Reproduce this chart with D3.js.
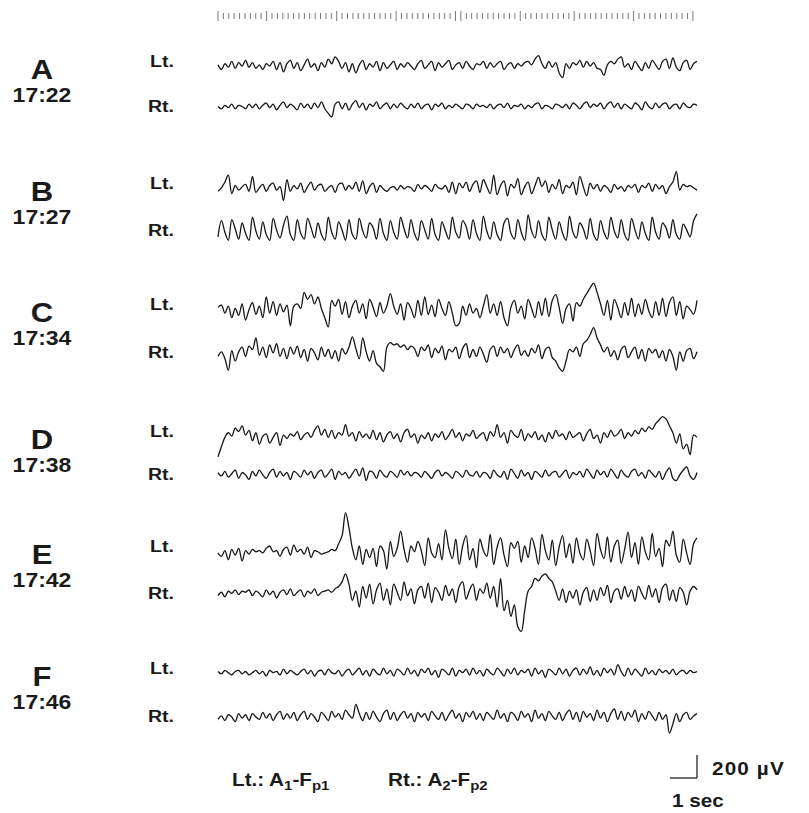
<!DOCTYPE html>
<html>
<head>
<meta charset="utf-8">
<script src="https://cdn.jsdelivr.net/npm/d3@7"></script>
<style>
  html, body { margin: 0; padding: 0; background: #fff; }
  text { font-family: "Liberation Sans", Arial, Helvetica, sans-serif; font-weight: bold; fill: #1a1a1a; }
</style>
</head>
<body>
<div class="chart"></div>
<script>
var svgWidth = 809;
var svgHeight = 813;

// recording segments
var segments = ["A", "B", "C", "D", "E", "F"];
var clockTimes = ["17:22", "17:27", "17:34", "17:38", "17:42", "17:46"];

// trace values in microvolts (positive up)
var aLt = [10,-30,20,-10,40,-20,30,0,50,-10, 30,-20,10,-30,20,0,40,-30,30,-50, 20,50,-20,30,-40,10,60,-10,20,-40,
  30,-10,60,20,80,40,-20,30,-50,20, -60,10,50,-30,20,-10,40,-40,30,-20, 10,40,-30,20,-10,30,0,-30,20,50,
  -20,10,40,-40,30,-10,20,50,-30,10, 30,-20,40,0,-30,20,10,40,-20,30, -10,20,40,-30,10,30,-20,20,0,30,
  40,10,60,90,20,-20,40,-10,30,-60, -100,20,-20,30,10,50,-10,40,0,30, -20,-30,-80,10,40,20,60,80,-10,20,
  -30,40,0,-40,30,-20,50,10,-30,40, 60,-20,70,-10,-40,30,50,-30,20,40];
var aRt = [0,-20,10,-10,20,-20,10,0,-20,20, -10,20,-20,10,30,-10,20,-30,10,40, -10,20,0,-30,30,-10,20,-20,30,-10,
  40,-20,-60,-90,20,40,-20,30,-30,20, 50,-10,30,-30,20,0,40,-20,10,30, -20,20,-10,30,0,-20,20,-10,30,-20,
  10,20,-30,20,0,30,-20,10,-10,20, 0,-20,20,10,-20,20,0,10,-10,20, -20,10,20,-10,30,-20,10,0,20,-20,
  10,-10,20,30,-20,10,0,-20,20,10, -10,20,-20,30,10,-20,20,40,-10,20, 0,30,-20,20,40,-10,30,-20,20,0,
  -20,30,10,-30,40,0,-20,30,-10,20, 30,-20,10,20,-20,30,0,-10,20,10];
var bLt = [-20,10,60,120,-40,30,-10,20,40,-20, 110,-30,10,40,-20,30,50,-10,20,-100, 80,-20,30,0,50,-30,20,60,-10,30,
  40,-20,10,30,-30,40,50,-10,30,0, 60,-20,70,-40,20,50,-30,30,0,-20, 10,20,-10,30,0,20,10,-20,40,0,
  30,10,-20,40,10,0,30,-30,60,-40, 50,10,60,-20,40,70,-30,80,20,-40, 120,-50,30,70,-60,40,10,90,-50,20,
  60,-40,30,100,20,70,-30,40,0,80, -40,30,10,60,-50,110,20,-60,50,0, 40,-20,30,10,-30,40,0,20,-20,30,
  10,40,-30,30,10,50,-20,40,0,30, -40,20,60,150,-10,40,20,30,10,-10];
var bRt = [-60,80,-20,-90,90,10,-80,60,-30,-90, 110,-10,-80,70,-40,-90,100,0,-70,40, 120,-40,-90,90,-30,-80,100,20,-70,60,
  -40,-90,110,-20,-80,70,0,-90,90,-40, -80,100,-10,-70,60,20,-80,100,-30,-90, 80,-20,-80,110,10,-70,90,-30,-90,80,
  0,-80,100,-40,-90,70,-10,-80,110,-20, -70,80,30,-80,90,-30,-90,120,-10,-80, 70,-40,-90,60,100,-30,-80,90,-20,-90,
  130,-10,-70,80,-40,-90,110,0,-80,70, -30,-90,120,-20,-70,60,10,-80,100,-40, -90,80,-20,-80,110,-10,-70,90,-40,-90,
  100,0,-80,70,-30,-90,110,-20,-80,60, 20,-70,90,-40,-80,50,0,-60,80,140];
var cLt = [30,50,-20,40,-60,20,-40,60,-80,10, 70,-30,40,-60,120,-20,80,-40,60,-10, 50,-130,40,60,20,160,100,140,60,120,
  20,-60,-140,90,40,100,-30,80,-60,40, 90,-20,60,-70,100,30,-50,70,-20,40, 150,40,-30,60,-80,70,20,-60,90,-40,
  120,-30,50,-50,100,20,-40,80,-20,-130, -110,40,-40,60,-20,20,-60,40,140,-20, 60,-40,80,-60,-130,30,90,-20,40,-70,
  100,20,-60,80,-40,110,-50,90,140,30, -110,20,60,-90,70,40,100,150,200,240, 160,60,-40,90,-80,100,30,-60,70,-40,
  110,-50,60,-30,100,0,-60,80,-40,110, -50,70,120,-40,80,-70,40,10,-30,90];
var cRt = [-20,20,-40,-140,30,-60,20,60,-20,70, 40,140,-10,60,-30,80,10,90,-20,50, -40,60,0,70,-30,40,-60,50,10,-50,
  60,-20,40,-40,30,-60,50,0,60,150, 50,-40,140,20,-60,30,-80,-110,-150,60, 100,80,90,60,80,40,70,50,-20,60,
  30,80,-30,50,10,70,-50,40,20,60, -40,50,90,-30,40,-20,60,0,-70,40, 70,-20,60,10,50,-30,40,80,-10,30,
  -20,50,10,80,-40,40,60,-30,-60,-120, -150,-60,40,20,60,-20,90,120,170,230, 140,80,20,60,-20,30,-50,40,70,-30,
  20,60,-40,40,-60,50,10,40,-30,30, -60,40,-20,-140,20,-60,30,50,-40,20];
var dLt = [-150,-60,20,60,30,100,70,120,40,80, -10,60,-40,30,50,-30,20,60,-50,40, 10,50,30,70,0,40,60,20,80,120,
  40,90,20,80,10,60,40,130,30,60, -10,70,20,50,10,80,0,60,-20,40, 70,10,50,-20,60,90,20,50,-30,40,
  10,60,-10,50,20,70,0,40,90,20, 60,-10,50,30,80,10,40,60,-10,70, 30,130,20,60,-30,80,40,20,90,-10,
  50,20,70,0,40,-20,60,10,80,30, 50,0,70,20,40,60,-10,50,90,10, 40,-30,60,20,80,30,50,90,10,60,
  30,80,50,100,70,110,90,140,170,200, 180,120,60,-30,50,-80,-40,-130,40,20];
var dRt = [20,-10,30,-20,10,40,-30,20,0,-40, 30,-10,40,0,-30,20,50,-20,30,-10, 20,-40,30,10,-20,40,0,30,-30,20,
  40,-20,10,50,-40,30,0,20,-30,10, 50,-10,60,-50,30,20,-30,40,0,-20, 30,10,-20,40,0,30,-10,20,10,-20,
  30,0,-30,20,40,-10,20,0,-30,30, 10,-20,40,0,-10,30,-20,20,10,-30, 40,0,-20,30,-40,50,10,-30,40,-10,
  20,-40,30,10,-20,40,-10,20,30,-20, 10,40,-30,20,0,30,-20,50,10,-30, 40,0,30,-20,50,10,-30,40,0,-20,
  30,50,-10,20,-30,40,10,-20,30,-40, 20,60,-30,-50,0,40,70,-10,-40,20];
var eLt = [0,-30,20,-60,30,-20,40,-70,20,-10, 30,10,20,0,40,60,10,20,-30,30, 50,-20,70,10,30,-10,50,-40,20,10,
  -10,0,10,30,20,80,150,350,220,40, -60,60,-100,30,-40,40,-120,60,20,-140, 100,-30,40,190,30,-80,60,10,100,20,
  -110,130,0,-40,80,-60,200,40,-50,120, -100,60,150,-60,40,-130,120,20,-30,160, -100,50,130,-20,-120,90,40,100,-80,60,
  -40,130,40,-100,160,20,-60,110,-110,50, 150,-40,80,-90,130,0,-60,120,20,-110, 170,30,-50,140,-80,60,110,-90,30,180,
  -40,90,-100,140,10,-60,170,-30,40,-120, 110,60,190,-20,-80,120,0,-100,80,130];
var eRt = [-20,10,-30,20,0,30,-10,20,10,30, -20,20,0,-30,30,-10,20,-40,10,30, -10,40,-20,10,30,-30,20,0,40,-20,
  10,20,30,10,40,60,100,170,80,-60, 20,-120,60,-40,80,-90,30,90,-60,40, -100,80,10,-60,100,-20,40,-90,30,60,
  -40,90,-80,50,10,-60,70,-20,40,-80, 60,100,-50,30,80,-60,40,0,90,-40, 60,-120,130,-150,-60,-200,-100,-290,-330,-150,
  20,60,130,110,150,170,130,100,20,-60, 40,-80,20,-40,30,-100,10,50,-70,30, -60,50,-20,70,-80,20,40,-50,60,-30,
  30,-70,60,0,-50,70,-30,40,-80,50, 80,-60,30,-70,50,10,-100,20,60,30];
var fLt = [10,-10,20,0,-20,10,20,-10,10,-20, 0,20,-10,10,-30,20,0,10,-20,30, -10,20,0,-20,10,30,-10,20,-30,10,
  20,-20,30,0,-10,20,-30,10,30,-20, 10,40,-20,20,-30,30,0,-20,40,-10, 20,-30,30,10,-20,40,-10,20,-30,30,
  0,40,-20,20,-40,30,10,-20,40,-30, 20,0,30,-20,40,-10,20,-30,30,0, -20,40,10,-30,30,-10,40,-20,20,0,
  30,-30,40,-10,20,-40,30,10,-20,40, -10,30,-30,20,40,-20,30,-10,50,-20, 20,-30,40,0,30,-20,70,10,-30,40,
  -20,30,0,-30,40,-10,20,-20,30,0, 20,-10,30,-20,10,20,-10,20,0,10];
var fRt = [-20,10,-30,20,0,-40,30,-10,20,-30, 30,0,-20,40,-10,30,-30,20,50,-20, 30,-10,40,-30,20,50,-20,30,0,-40,
  40,10,-30,50,0,30,-20,60,20,-10, 110,30,-30,40,-20,50,0,-40,30,60, -20,40,-30,20,50,-10,30,-40,40,0,
  30,-30,50,10,-20,40,-30,20,60,-10, 30,-40,40,0,50,-20,30,-30,40,10, -20,60,-10,30,-40,40,20,-30,50,0,
  30,-40,60,-10,30,-30,50,10,-20,40, -30,30,60,-20,40,-40,50,0,30,-30, 60,-10,40,-40,30,70,-20,50,-30,40,
  0,60,-40,30,-20,50,10,-30,40,-20, 20,-140,-60,30,-40,20,40,-20,10,30];

var leftTraces = [aLt, bLt, cLt, dLt, eLt, fLt];
var rightTraces = [aRt, bRt, cRt, dRt, eRt, fRt];

// time marker along the top (seconds)
var duration = 17.75;
var tickStep = 0.2;
var majorTicks = [0, 1.9, 4.4, 6.6, 8.9, 11.2, 13.2, 15.4, 17.6];

// calibration
var calSec = 1;
var calMicroV = 200;

// layout
var rowLt = [65, 187, 308, 435, 550, 672];
var rowRt = [106, 230, 352, 474, 593, 716];
var stretch = 1.15;

var svg = d3.select(".chart")
  .append("svg")
  .attr("width", svgWidth)
  .attr("height", svgHeight);

var x = d3.scaleLinear()
  .domain([0, duration])
  .range([218, 697]);

// microvolts -> pixel offset from the channel's centre line
var y = d3.scaleLinear()
  .domain([-calMicroV, calMicroV])
  .range([23, -23]);

// labels are a little wider than the font, so stretch them sideways
function label(px, py, str, size, anchor) {
  return svg.append("text")
    .attr("transform", `translate(${px},${py}) scale(${stretch},1)`)
    .attr("text-anchor", anchor || "start")
    .style("font-size", size + "px")
    .text(str);
}

// time ruler
var tickTimes = d3.range(0, duration + 0.001, tickStep);
svg.append("g")
  .selectAll("line")
  .data(tickTimes)
  .enter()
  .append("line")
  .attr("x1", d => x(d))
  .attr("x2", d => x(d))
  .attr("y1", d => majorTicks.some(m => Math.abs(m - d) < 0.1) ? 11 : 13)
  .attr("y2", d => majorTicks.some(m => Math.abs(m - d) < 0.1) ? 21 : 19)
  .attr("stroke", "#555")
  .attr("stroke-width", 0.8);

function drawTrace(values, rowY) {
  var mean = d3.mean(values);
  var dt = duration / (values.length - 1);
  var line = d3.line()
    .curve(d3.curveCatmullRom.alpha(0.5))
    .x((d, i) => x(i * dt))
    .y(d => rowY + y(d - mean));
  svg.append("path")
    .datum(values)
    .attr("d", line)
    .attr("fill", "none")
    .attr("stroke", "#151515")
    .attr("stroke-width", 1.3)
    .attr("stroke-linejoin", "round");
}

segments.forEach(function (seg, k) {
  label(42, rowLt[k] + 14, seg, 27, "middle");
  label(42, rowLt[k] + 37, clockTimes[k], 20, "middle");
  label(150, rowLt[k] + 2, "Lt.", 17);
  label(148, rowRt[k] + 6, "Rt.", 17);

  drawTrace(leftTraces[k], rowLt[k]);
  drawTrace(rightTraces[k], rowRt[k]);
});

// montage legend
function montage(xPos, side, num) {
  var t = label(xPos, 786, side + ".: A", 18);
  t.append("tspan").attr("dy", 4).style("font-size", "13px").text(num);
  t.append("tspan").attr("dy", -4).text("-F");
  t.append("tspan").attr("dy", 4).style("font-size", "13px").text("p" + num);
}
montage(232, "Lt", "1");
montage(388, "Rt", "2");

// calibration bars
var calY = 778;
svg.append("line")
  .attr("x1", x(duration - calSec))
  .attr("x2", x(duration))
  .attr("y1", calY)
  .attr("y2", calY)
  .attr("stroke", "#111")
  .attr("stroke-width", 1.2);
svg.append("line")
  .attr("x1", x(duration))
  .attr("x2", x(duration))
  .attr("y1", calY + y(calMicroV) - y(0))
  .attr("y2", calY)
  .attr("stroke", "#111")
  .attr("stroke-width", 1.2);

label(712, 775, "200 \u00b5V", 18).style("letter-spacing", "1px");
label(672, 807, "1 sec", 18);
</script>
</body>
</html>
